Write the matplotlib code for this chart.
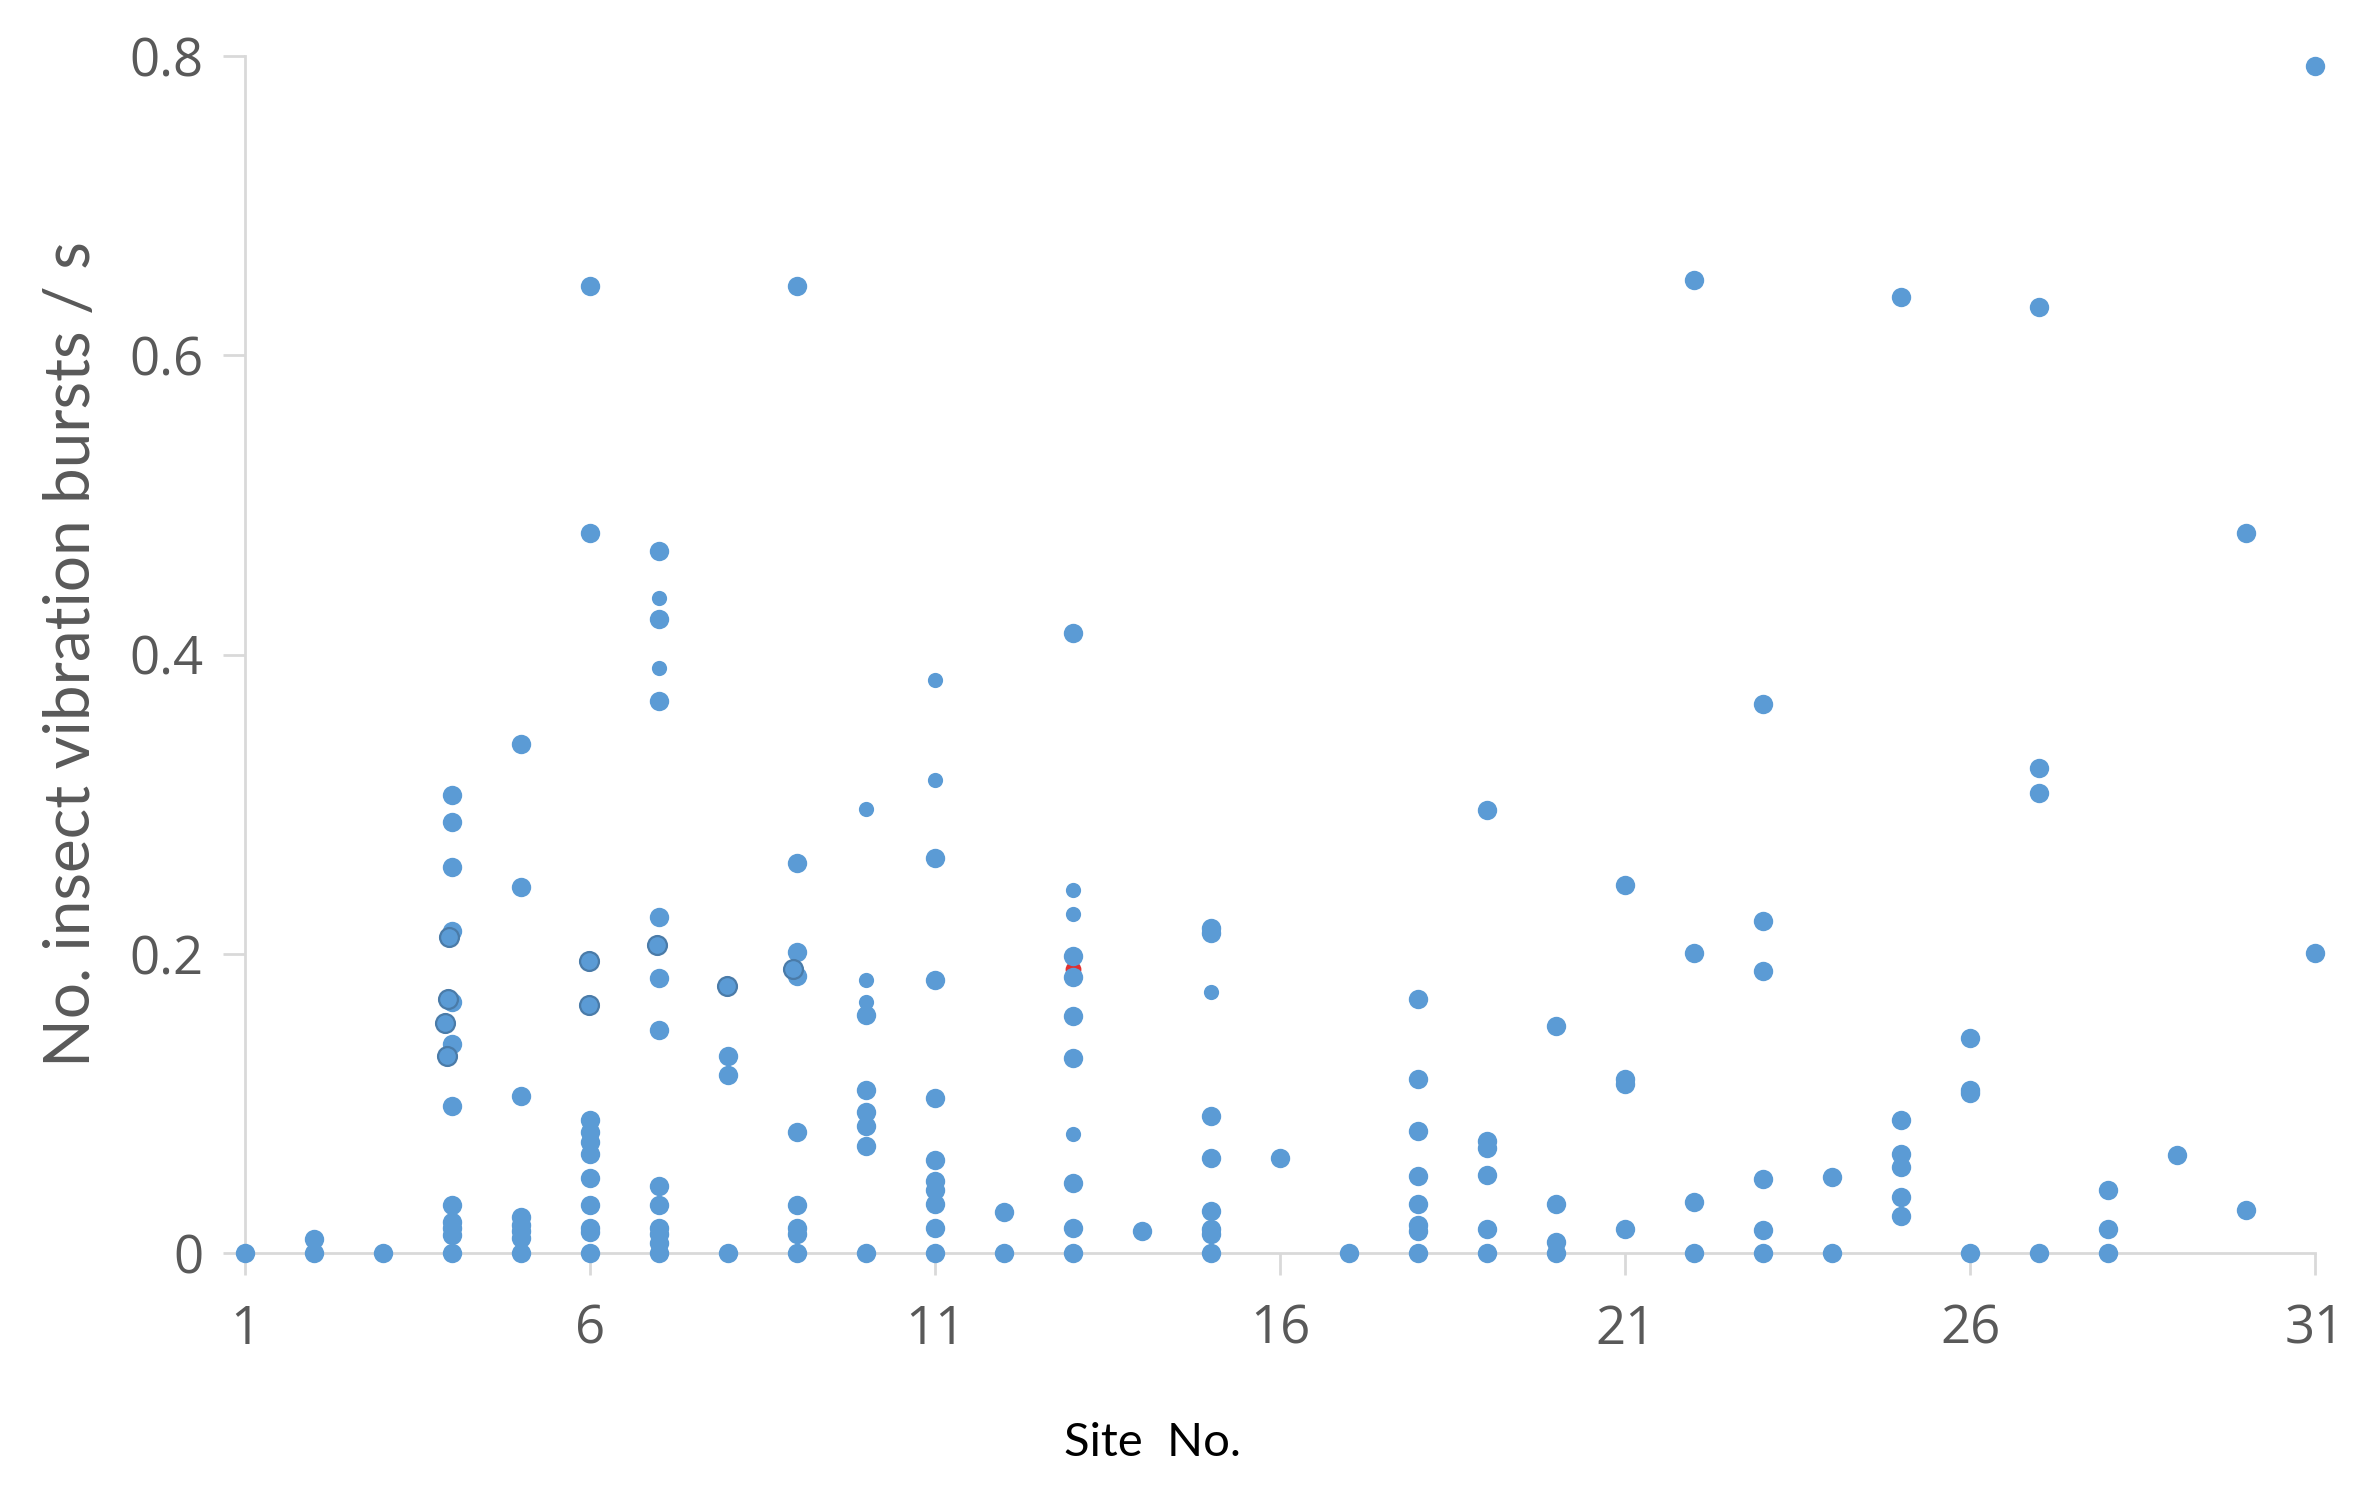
import matplotlib
matplotlib.use("Agg")
import matplotlib.pyplot as plt

# ---- data (Site No., insect vibration bursts per second) ----
# regular markers
site_main = [1,
             2, 2,
             3,
             4, 4, 4, 4, 4, 4, 4, 4, 4, 4, 4, 4,
             5, 5, 5, 5, 5, 5, 5, 5,
             6, 6, 6, 6, 6, 6, 6, 6, 6, 6, 6,
             7, 7, 7, 7, 7, 7, 7, 7, 7, 7, 7, 7,
             8, 8, 8,
             9, 9, 9, 9, 9, 9, 9, 9, 9,
             10, 10, 10, 10, 10, 10,
             11, 11, 11, 11, 11, 11, 11, 11, 11,
             12, 12,
             13, 13, 13, 13, 13, 13, 13, 13,
             14,
             15, 15, 15, 15, 15, 15, 15, 15,
             16,
             17,
             18, 18, 18, 18, 18, 18, 18, 18,
             19, 19, 19, 19, 19, 19,
             20, 20, 20, 20,
             21, 21, 21, 21,
             22, 22, 22, 22,
             23, 23, 23, 23, 23, 23,
             24, 24,
             25, 25, 25, 25, 25, 25,
             26, 26, 26, 26,
             27, 27, 27, 27,
             28, 28, 28,
             29,
             30, 30,
             31, 31]
rate_main = [0,
             0, 0.0096,
             0,
             0, 0.012, 0.017, 0.021, 0.032, 0.098, 0.140, 0.168, 0.215, 0.258, 0.288, 0.306,
             0, 0.0098, 0.015, 0.019, 0.024, 0.105, 0.2445, 0.340,
             0, 0.014, 0.017, 0.032, 0.050, 0.066, 0.074, 0.081, 0.089, 0.481, 0.646,
             0, 0.007, 0.013, 0.017, 0.032, 0.045, 0.149, 0.184, 0.2247, 0.369, 0.424, 0.469,
             0, 0.119, 0.132,
             0, 0.0127, 0.017, 0.032, 0.081, 0.185, 0.201, 0.261, 0.646,
             0, 0.0713, 0.0846, 0.0944, 0.1087, 0.159,
             0, 0.017, 0.033, 0.042, 0.048, 0.062, 0.1034, 0.1822, 0.2637,
             0, 0.0275,
             0, 0.017, 0.0466, 0.1304, 0.1583, 0.1846, 0.1985, 0.4145,
             0.0145,
             0, 0.0127, 0.016, 0.0283, 0.0635, 0.0913, 0.214, 0.217,
             0.0635,
             0,
             0, 0.0149, 0.0187, 0.0327, 0.0512, 0.0813, 0.1162, 0.1696,
             0, 0.016, 0.0521, 0.0699, 0.075, 0.2962,
             0, 0.0071, 0.0327, 0.152,
             0.016, 0.1133, 0.1162, 0.2458,
             0, 0.0339, 0.2003, 0.650,
             0, 0.0156, 0.0494, 0.1884, 0.222, 0.367,
             0, 0.0506,
             0.0245, 0.0372, 0.0572, 0.0661, 0.089, 0.639,
             0, 0.1067, 0.109, 0.1435,
             0, 0.3075, 0.324, 0.632,
             0, 0.0162, 0.042,
             0.0652,
             0.029, 0.481,
             0.2003, 0.793]

# slightly smaller markers
site_small = [7, 7, 10, 10, 10, 11, 11, 13, 13, 13, 15]
rate_small = [0.391, 0.438, 0.168, 0.1826, 0.2966, 0.3163, 0.3828, 0.0798, 0.2265, 0.2424, 0.1746]

# markers drawn with a dark outline (slightly left of their site)
site_outline = [3.93, 3.9, 3.94, 3.96, 5.98, 5.98, 6.97, 7.99, 8.95]
rate_outline = [0.132, 0.154, 0.170, 0.211, 0.166, 0.195, 0.206, 0.1785, 0.190]

# a partly hidden red marker
site_red = [13]
rate_red = [0.190]

x_ticks = [1, 6, 11, 16, 21, 26, 31]
y_ticks = [0, 0.2, 0.4, 0.6, 0.8]
y_tick_labels = ["0", "0.2", "0.4", "0.6", "0.8"]
x_label = "Site  No."
y_label = "No. insect vibration bursts / s"

BLUE = "#5B9BD5"
GRID = "#D9D9D9"
TXT = "#595959"

fig = plt.figure(figsize=(23.73, 14.85), dpi=100)
ax = fig.add_axes([0.1032, 0.1562, 0.8724, 0.8061])

ax.scatter(site_red, rate_red, s=130, color="#E03030", linewidths=0, zorder=2,
           clip_on=False)
ax.scatter(site_main, rate_main, s=195, color=BLUE, linewidths=0, zorder=3,
           clip_on=False)
ax.scatter(site_small, rate_small, s=120, color=BLUE, linewidths=0, zorder=3,
           clip_on=False)
ax.scatter(site_outline, rate_outline, s=185, color=BLUE, edgecolors="#4A7BA8",
           linewidths=1.6, zorder=4, clip_on=False)

ax.set_xlim(1, 31)
ax.set_ylim(0, 0.8)
ax.set_xticks(x_ticks)
ax.set_xticklabels([str(t) for t in x_ticks])
ax.set_yticks(y_ticks)
ax.set_yticklabels(y_tick_labels)

for side in ["top", "right"]:
    ax.spines[side].set_visible(False)
for side in ["left", "bottom"]:
    ax.spines[side].set_color(GRID)
    ax.spines[side].set_linewidth(2.0)
    ax.spines[side].set_zorder(1)

ax.tick_params(axis="both", colors=GRID, length=16, width=2.0,
               labelcolor=TXT, labelsize=38)
ax.tick_params(axis="x", pad=20)
ax.tick_params(axis="y", pad=14)
for lab in ax.get_xticklabels() + ax.get_yticklabels():
    lab.set_fontfamily("Open Sans")

ax.set_ylabel(y_label, fontsize=46, color=TXT, family="Lato", labelpad=20)
fig.text(0.4855, 0.028, x_label, fontsize=34, color="black", family="Lato",
         ha="center", va="center")

fig.savefig("out.png", dpi=100, facecolor="white")
